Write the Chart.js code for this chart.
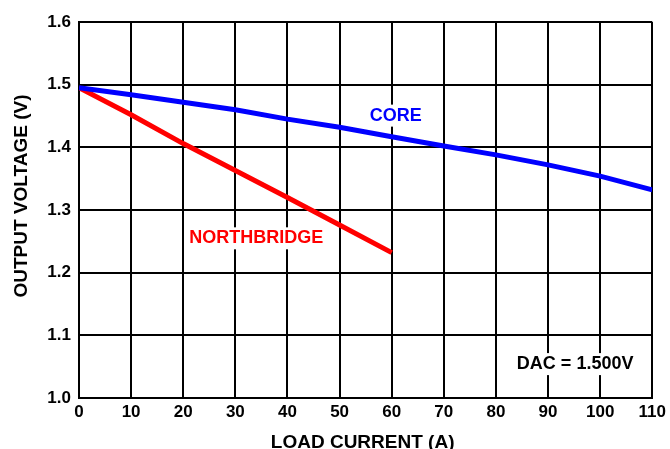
<!DOCTYPE html>
<html>
<head>
<meta charset="utf-8">
<script src="https://cdn.jsdelivr.net/npm/chart.js@4/dist/chart.umd.min.js"></script>
<style>
  html, body { margin: 0; padding: 0; background: #fff; }
  #wrap { width: 670px; height: 449px; }
</style>
</head>
<body>
<div id="wrap"><canvas id="chart" width="670" height="449"></canvas></div>
<script>
// load current (A)
const coreCurrent = [0, 10, 20, 30, 40, 50, 60, 70, 80, 90, 100, 110];
const coreVoltage = [1.495, 1.484, 1.472, 1.460, 1.445, 1.432, 1.417, 1.402, 1.388, 1.372, 1.354, 1.332];
const nbCurrent = [0, 10, 20, 30, 40, 50, 60];
const nbVoltage = [1.495, 1.452, 1.406, 1.363, 1.320, 1.276, 1.232];

// text labels placed in data coordinates
const labels = [
    { text: 'CORE', x: 60.8, y: 1.4506, color: '#0000ff' },
    { text: 'NORTHBRIDGE', x: 34.0, y: 1.2548, color: '#ff0000' },
    { text: 'DAC = 1.500V', x: 95.2, y: 1.0541, color: '#000000' }
];

const FONT = "'Liberation Sans', Arial, sans-serif";

const labelPlugin = {
    id: 'labelPlugin',
    afterDatasetsDraw(chart) {
        const ctx = chart.ctx;
        const xs = chart.scales.x, ys = chart.scales.y;
        const area = chart.chartArea;
        ctx.save();
        ctx.font = 'bold 18px ' + FONT;
        ctx.textAlign = 'center';
        ctx.textBaseline = 'middle';
        labels.forEach(l => {
            const px = xs.getPixelForValue(l.x);
            const py = ys.getPixelForValue(l.y);
            const w = ctx.measureText(l.text).width;
            ctx.fillStyle = '#fff';
            ctx.fillRect(px - w / 2 - 4, py - 11, w + 8, 22);
            ctx.fillStyle = l.color;
            ctx.fillText(l.text, px, py);
        });
        // axis titles
        ctx.fillStyle = '#000';
        ctx.font = 'bold 19px ' + FONT;
        ctx.fillText('LOAD CURRENT (A)', (area.left + area.right) / 2 - 3, 443);
        ctx.translate(22, area.top + (area.bottom - area.top) / 2 - 14);
        ctx.rotate(-Math.PI / 2);
        ctx.fillText('OUTPUT VOLTAGE (V)', 0, 0);
        ctx.restore();
    }
};

new Chart(document.getElementById('chart'), {
    type: 'line',
    data: {
        datasets: [{
            label: 'CORE',
            data: coreCurrent.map((c, i) => ({ x: c, y: coreVoltage[i] })),
            borderColor: '#0000ff',
            borderWidth: 5,
            pointRadius: 0,
            tension: 0
        }, {
            label: 'NORTHBRIDGE',
            data: nbCurrent.map((c, i) => ({ x: c, y: nbVoltage[i] })),
            borderColor: '#ff0000',
            borderWidth: 5,
            pointRadius: 0,
            tension: 0
        }]
    },
    options: {
        responsive: false,
        animation: false,
        layout: { padding: { top: 22, right: 16, left: 0, bottom: 0 } },
        plugins: { legend: { display: false }, tooltip: { enabled: false } },
        scales: {
            x: {
                type: 'linear',
                min: 0, max: 110,
                ticks: { stepSize: 10, color: '#000', font: { family: FONT, size: 17, weight: 'bold' }, padding: 4 },
                grid: { color: '#000', lineWidth: 2, drawTicks: false },
                border: { color: '#000', width: 2 },
                afterFit(scale) { scale.height = 51; }
            },
            y: {
                min: 1.0, max: 1.6,
                ticks: { stepSize: 0.1, color: '#000', font: { family: FONT, size: 17, weight: 'bold' }, padding: 8,
                    callback: v => v.toFixed(1) },
                grid: { color: '#000', lineWidth: 2, drawTicks: false },
                border: { color: '#000', width: 2 },
                afterFit(scale) { scale.width = 79; }
            }
        }
    },
    plugins: [labelPlugin]
});
</script>
</body>
</html>
